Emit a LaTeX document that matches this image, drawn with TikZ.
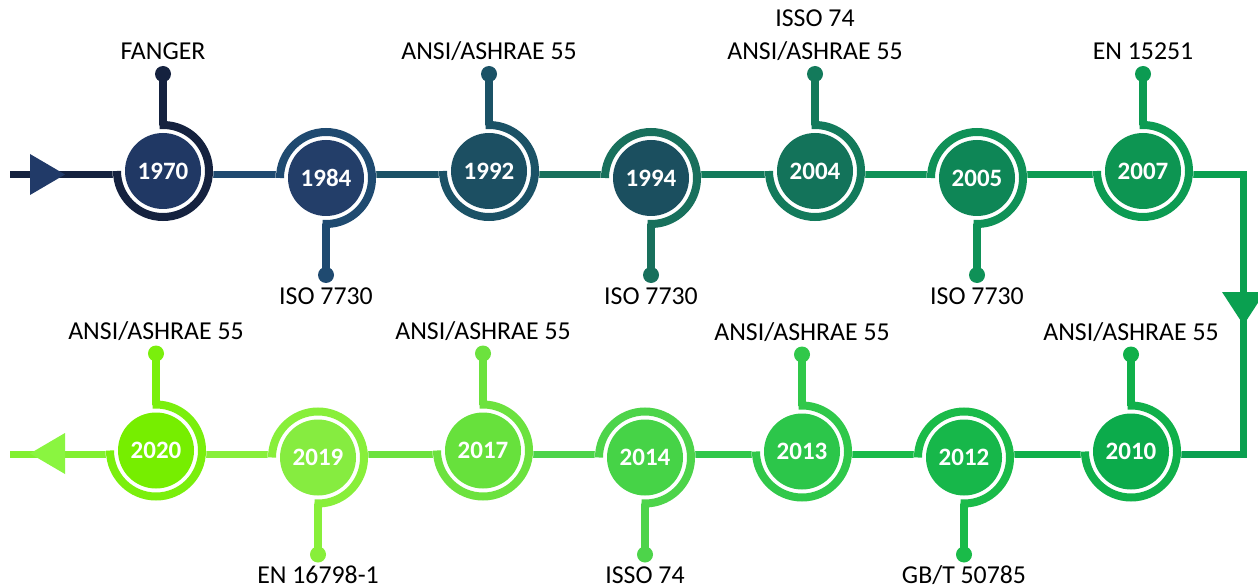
\documentclass[tikz,border=0pt]{standalone}
\usepackage{fontspec}
\setmainfont{Carlito}
\pgfdeclarelayer{bg}
\pgfdeclarelayer{mid}
\pgfsetlayers{bg,mid,main}
% ring / line colours
\definecolor{r1970}{HTML}{15223F}\definecolor{i1970}{HTML}{203864}
\definecolor{r1984}{HTML}{1F4A70}\definecolor{i1984}{HTML}{233E69}
\definecolor{r1992}{HTML}{1B5266}\definecolor{i1992}{HTML}{1C4F62}
\definecolor{r1994}{HTML}{18705C}\definecolor{i1994}{HTML}{1B4F5F}
\definecolor{r2004}{HTML}{137A5B}\definecolor{i2004}{HTML}{13735A}
\definecolor{r2005}{HTML}{0F9157}\definecolor{i2005}{HTML}{0E8656}
\definecolor{r2007}{HTML}{0C9B52}\definecolor{i2007}{HTML}{0D9552}
\definecolor{rcorner}{HTML}{0AA050}
\definecolor{r2010}{HTML}{10B04A}\definecolor{i2010}{HTML}{0CAB4B}
\definecolor{r2012}{HTML}{1ABB49}\definecolor{i2012}{HTML}{17B74A}
\definecolor{r2013}{HTML}{30C84A}\definecolor{i2013}{HTML}{2CC64A}
\definecolor{r2014}{HTML}{4DD44A}\definecolor{i2014}{HTML}{46D347}
\definecolor{r2017}{HTML}{6CE23E}\definecolor{i2017}{HTML}{67E13C}
\definecolor{r2019}{HTML}{88EF3A}\definecolor{i2019}{HTML}{86EC40}
\definecolor{r2020}{HTML}{7AEF0C}\definecolor{i2020}{HTML}{76EE00}
\definecolor{rend}{HTML}{82F030}\definecolor{arrowend}{HTML}{8AF540}
\definecolor{arrowstart}{HTML}{213A68}
\tikzset{
  seg/.style={line width=7pt},
  ringarc/.style={line width=8pt},
  stemline/.style={line width=7.5pt},
  year/.style={circle, minimum size=76pt, inner sep=0pt, text=white,
    font=\fontsize{25}{28}\selectfont\bfseries},
  lbl/.style={anchor=base, inner sep=0pt, text=black,
    font=\fontsize{25.8}{30}\selectfont},
}
% top-type: ring round the bottom, stem up
\newcommand{\TLtop}[3]{%
  \begin{pgfonlayer}{mid}
    \fill[white] (#1.center) circle[radius=50.5pt];
    \draw[ringarc,#2] (#1.center) ++(180:46pt) arc[start angle=180,end angle=454.4,radius=46pt];
    \draw[stemline,#2] (#1.center) ++(0,46) -- ++(0,51) coordinate (#1d);
    \fill[#2] (#1d) circle[radius=8pt];
  \end{pgfonlayer}
  \node[lbl] (#1l) at ([yshift=14pt]#1d) {#3};
}
% bottom-type: ring round the top, stem down
\newcommand{\TLbot}[3]{%
  \begin{pgfonlayer}{mid}
    \fill[white] (#1.center) circle[radius=50.5pt];
    \draw[ringarc,#2] (#1.center) ++(180:46pt) arc[start angle=180,end angle=-94.4,radius=46pt];
    \draw[stemline,#2] (#1.center) ++(0,-46) -- ++(0,-51) coordinate (#1d);
    \fill[#2] (#1d) circle[radius=8pt];
  \end{pgfonlayer}
  \node[lbl] (#1l) at ([yshift=-29pt]#1d) {#3};
}
\begin{document}
\begin{tikzpicture}[x=1pt,y=1pt]
\useasboundingbox (0,0) rectangle (1258,-588);
\coordinate (row1) at (0,-174.5);
\coordinate (row2) at (0,-454);
\coordinate (s1) at (10,-174.5);
\coordinate (k1) at (1243.5,-174.5);
\coordinate (k2) at (1243.5,-454);
\coordinate (e2) at (10,-454);
% year nodes
\node[year, fill=i1970] (y1970) at (163,-171) {1970};
\node[year, fill=i1984] (y1984) at (326,-178) {1984};
\node[year, fill=i1992] (y1992) at (489,-171) {1992};
\node[year, fill=i1994] (y1994) at (651,-178) {1994};
\node[year, fill=i2004] (y2004) at (815,-171) {2004};
\node[year, fill=i2005] (y2005) at (977,-178) {2005};
\node[year, fill=i2007] (y2007) at (1143,-171) {2007};
\node[year, fill=i2010] (y2010) at (1131,-451.5) {2010};
\node[year, fill=i2012] (y2012) at (964,-457.5) {2012};
\node[year, fill=i2013] (y2013) at (802,-451.5) {2013};
\node[year, fill=i2014] (y2014) at (645,-457.5) {2014};
\node[year, fill=i2017] (y2017) at (483,-450.5) {2017};
\node[year, fill=i2019] (y2019) at (318,-457.5) {2019};
\node[year, fill=i2020] (y2020) at (156,-450.5) {2020};
% rings, stems, labels
\TLtop{y1970}{r1970}{FANGER}
\TLbot{y1984}{r1984}{ISO 7730}
\TLtop{y1992}{r1992}{ANSI/ASHRAE 55}
\TLbot{y1994}{r1994}{ISO 7730}
\TLtop{y2004}{r2004}{ANSI/ASHRAE 55}
\node[lbl] (y2004l2) at ([yshift=47pt]y2004d) {ISSO 74};
\TLbot{y2005}{r2005}{ISO 7730}
\TLtop{y2007}{r2007}{EN 15251}
\TLtop{y2010}{r2010}{ANSI/ASHRAE 55}
\TLbot{y2012}{r2012}{GB/T 50785}
\TLtop{y2013}{r2013}{ANSI/ASHRAE 55}
\TLbot{y2014}{r2014}{ISSO 74}
\TLtop{y2017}{r2017}{ANSI/ASHRAE 55}
\TLbot{y2019}{r2019}{EN 16798-1}
\TLtop{y2020}{r2020}{ANSI/ASHRAE 55}
% connectors
\begin{pgfonlayer}{bg}
\fill[white] (0,0) rectangle (1258,-588);
\draw[seg, r1970] (s1) -- (y1970 |- row1);
\draw[seg, r1984] (y1970 |- row1) -- (y1984 |- row1);
\draw[seg, r1992] (y1984 |- row1) -- (y1992 |- row1);
\draw[seg, r1994] (y1992 |- row1) -- (y1994 |- row1);
\draw[seg, r2004] (y1994 |- row1) -- (y2004 |- row1);
\draw[seg, r2005] (y2004 |- row1) -- (y2005 |- row1);
\draw[seg, r2007] (y2005 |- row1) -- (y2007 |- row1);
\draw[seg, rcorner] (y2007 |- row1) -- (k1) -- (k2) -- (y2010 |- row2);
\draw[seg, r2010] (y2010 |- row2) -- (y2012 |- row2);
\draw[seg, r2012] (y2012 |- row2) -- (y2013 |- row2);
\draw[seg, r2013] (y2013 |- row2) -- (y2014 |- row2);
\draw[seg, r2014] (y2014 |- row2) -- (y2017 |- row2);
\draw[seg, r2017] (y2017 |- row2) -- (y2019 |- row2);
\draw[seg, r2019] (y2019 |- row2) -- (y2020 |- row2);
\draw[seg, rend] (y2020 |- row2) -- (e2);
\end{pgfonlayer}
% arrow heads
\fill[arrowstart] (30,-154) -- (65,-174.5) -- (30,-195) -- cycle;
\fill[rcorner] (1222,-292) -- (1265,-292) -- (1243.5,-325) -- cycle;
\fill[arrowend] (65,-433) -- (65,-474) -- (30,-453.5) -- cycle;
\end{tikzpicture}
\end{document}
